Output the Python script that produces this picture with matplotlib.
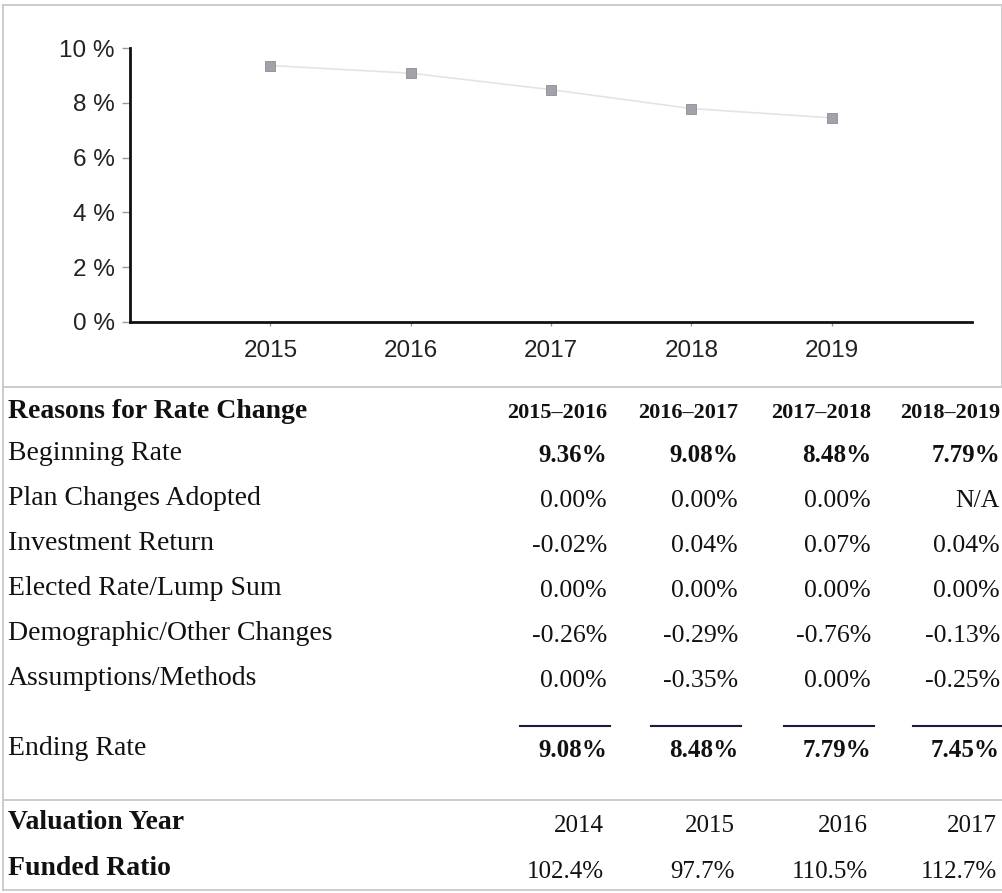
import matplotlib.pyplot as plt
from matplotlib.lines import Line2D

# chart data
years = [2015, 2016, 2017, 2018, 2019]
rates = [9.36, 9.08, 8.48, 7.79, 7.45]
y_ticks = [0, 2, 4, 6, 8, 10]

# table data
periods = ["2015\u20132016", "2016\u20132017", "2017\u20132018", "2018\u20132019"]
row_labels = ["Beginning Rate", "Plan Changes Adopted", "Investment Return",
              "Elected Rate/Lump Sum", "Demographic/Other Changes", "Assumptions/Methods"]
beginning = ["9.36%", "9.08%", "8.48%", "7.79%"]
plan_changes = ["0.00%", "0.00%", "0.00%", "N/A"]
investment = ["-0.02%", "0.04%", "0.07%", "0.04%"]
elected = ["0.00%", "0.00%", "0.00%", "0.00%"]
demographic = ["-0.26%", "-0.29%", "-0.76%", "-0.13%"]
assumptions = ["0.00%", "-0.35%", "0.00%", "-0.25%"]
ending = ["9.08%", "8.48%", "7.79%", "7.45%"]
valuation_year = ["2014", "2015", "2016", "2017"]
funded_ratio = ["102.4%", "97.7%", "110.5%", "112.7%"]

W, H = 1003, 893
fig = plt.figure(figsize=(W / 100, H / 100), dpi=100)

# background axes in pixel units for frame + table
bg = fig.add_axes([0, 0, 1, 1])
bg.set_xlim(0, W)
bg.set_ylim(H, 0)
bg.axis("off")

frame = "#c4c4c4"
bg.add_line(Line2D([3, W - 1], [5, 5], color=frame, lw=1.2))
bg.add_line(Line2D([3, 3], [5, 890], color=frame, lw=1.2))
bg.add_line(Line2D([W - 1, W - 1], [5, 386], color=frame, lw=1.2))
for yy in (387, 800, 890):
    bg.add_line(Line2D([3, W], [yy, yy], color=frame, lw=1.2))

# line chart
ax = fig.add_axes([130 / W, 1 - 322 / H, (972 - 130) / W, (322 - 48) / H])
ax.plot(years, rates, color="#e4e4e4", lw=1.2, marker="s", ms=6.5,
        mfc="#a2a2aa", mec="#8c8c94", mew=0.6)
ax.set_xlim(2014, 2020)
ax.set_ylim(0, 10)
ax.set_yticks(y_ticks)
ax.set_yticklabels([f"{t} %" for t in y_ticks])
ax.set_xticks(years)
for s in ("top", "right"):
    ax.spines[s].set_visible(False)
for s in ("left", "bottom"):
    ax.spines[s].set_linewidth(2)
    ax.spines[s].set_color("#111111")
ax.tick_params(axis="y", length=6, width=1, color="#999999", pad=5,
               labelsize=17.5, labelcolor="#222222")
ax.tick_params(axis="x", length=3, width=1, color="#999999", pad=10,
               labelsize=17.5, labelcolor="#222222")
for lab in ax.get_xticklabels() + ax.get_yticklabels():
    lab.set_family("Liberation Sans")

# table
serif = "Liberation Serif"
fs = 20
fn = 18
col_right = [607, 738, 871, 1000]
label_x = 8

bg.text(label_x, 418, "Reasons for Rate Change", family=serif, fontsize=fs,
        fontweight="bold", ha="left", va="baseline", color="#111111")
for x, p in zip(col_right, periods):
    bg.text(x, 418, p, family=serif, fontsize=16, fontweight="bold",
            ha="right", va="baseline", color="#111111")

rows = [beginning, plan_changes, investment, elected, demographic, assumptions]
row_base = [460, 505, 550, 595, 640, 685]
for i, (lab, vals, yb) in enumerate(zip(row_labels, rows, row_base)):
    bg.text(label_x, yb, lab, family=serif, fontsize=fs, ha="left",
            va="baseline", color="#111111")
    for x, v in zip(col_right, vals):
        bg.text(x, yb + 2, v, family=serif,
                fontsize=fn if i == 0 else fn + 0.5,
                fontweight="bold" if i == 0 else "normal",
                ha="right", va="baseline", color="#111111")

for x in col_right:
    bg.add_line(Line2D([x - 87, x + 3], [726, 726], color="#1c1c3a", lw=1.5))

bg.text(label_x, 755, "Ending Rate", family=serif, fontsize=fs, ha="left",
        va="baseline", color="#111111")
for x, v in zip(col_right, ending):
    bg.text(x, 757, v, family=serif, fontsize=fn, fontweight="bold",
            ha="right", va="baseline", color="#111111")

for lab, vals, yb in (("Valuation Year", valuation_year, 829),
                      ("Funded Ratio", funded_ratio, 875)):
    bg.text(label_x, yb, lab, family=serif, fontsize=fs, fontweight="bold",
            ha="left", va="baseline", color="#111111")
    for x, v in zip(col_right, vals):
        bg.text(x - 3, yb + 3, v, family=serif, fontsize=fn,
                ha="right", va="baseline", color="#111111")

fig.savefig("out.png", dpi=100)
